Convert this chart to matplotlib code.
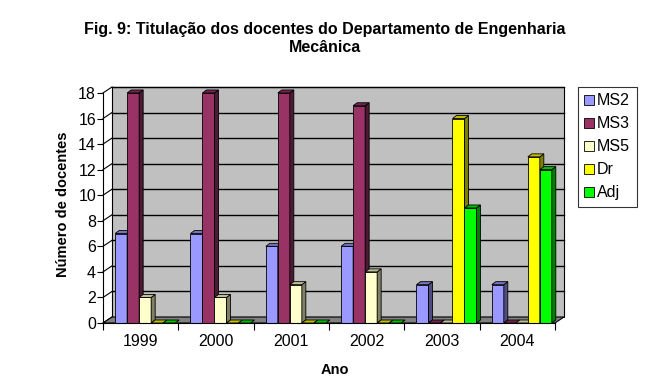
import matplotlib.pyplot as plt
from matplotlib.patches import Polygon, Patch
import matplotlib.colors as mc
import numpy as np

plt.rcParams['font.family'] = ['Liberation Sans', 'DejaVu Sans']

anos = ['1999', '2000', '2001', '2002', '2003', '2004']
series = ['MS2', 'MS3', 'MS5', 'Dr', 'Adj']
ms2 = [7, 7, 6, 6, 3, 3]
ms3 = [18, 18, 18, 17, 0, 0]
ms5 = [2, 2, 3, 4, 0, 0]
dr = [0, 0, 0, 0, 16, 13]
adj = [0, 0, 0, 0, 9, 12]
valores = [ms2, ms3, ms5, dr, adj]
cores = ['#9999FF', '#993366', '#FFFFCC', '#FFFF00', '#00FF00']

W, H = 649, 392
fig = plt.figure(figsize=(W / 100, H / 100), dpi=100)
px_x = 75.33   # pixels per category
px_y = 12.78   # pixels per unit
x0_px, y0_px = 103, 323
xmin, xmax = -0.5, 5.65
ymax = 18.6
ax = fig.add_axes([x0_px / W, (H - y0_px) / H, (xmax - xmin) * px_x / W, ymax * px_y / H])
ax.set_xlim(xmin, xmax)
ax.set_ylim(0, ymax)
ax.patch.set_visible(False)

# wall / floor offsets (depth)
wdx, wdy = 9 / px_x, 6 / px_y
x_l, x_r = -0.5, 5.5

# back wall
ax.add_patch(Polygon([(x_l + wdx, wdy), (x_r + wdx, wdy), (x_r + wdx, 18 + wdy), (x_l + wdx, 18 + wdy)],
                     closed=True, facecolor='#C0C0C0', edgecolor='black', lw=0.8, zorder=0))
# floor
ax.add_patch(Polygon([(x_l, 0), (x_r, 0), (x_r + wdx, wdy), (x_l + wdx, wdy)],
                     closed=True, facecolor='#808080', edgecolor='black', lw=0.8, zorder=1, clip_on=False))
# gridlines
for v in range(2, 19, 2):
    ax.plot([x_l + wdx, x_r + wdx], [v + wdy, v + wdy], color='black', lw=1, zorder=0.5)
for v in range(0, 19, 2):
    ax.plot([x_l, x_l + wdx], [v, v + wdy], color='black', lw=0.8, zorder=0.5, clip_on=False)

# bars with pseudo 3D
bw = 12 / px_x
bdx, bdy = 4 / px_x, 3 / px_y
shift = 4.5 / px_x
xs = np.arange(len(anos))


def escurecer(c, f):
    r, g, b = mc.to_rgb(c)
    return (r * f, g * f, b * f)


for i, (vals, cor) in enumerate(zip(valores, cores)):
    for j, h in enumerate(vals):
        xl = xs[j] - 2.5 * bw + i * bw + shift
        xr = xl + bw
        z = 2 + i * 0.01 + j
        if h > 0:
            ax.bar(xl, h, width=bw, align='edge', color=cor, edgecolor='black', lw=0.6, zorder=z)
            ax.add_patch(Polygon([(xr, 0), (xr, h), (xr + bdx, h + bdy), (xr + bdx, bdy)], closed=True,
                                 facecolor=escurecer(cor, 0.5), edgecolor='black', lw=0.6, zorder=z))
        ax.add_patch(Polygon([(xl, h), (xr, h), (xr + bdx, h + bdy), (xl + bdx, h + bdy)], closed=True,
                             facecolor=escurecer(cor, 0.75), edgecolor='black', lw=0.6, zorder=z))

for s in ['top', 'right']:
    ax.spines[s].set_visible(False)
ax.spines['left'].set_bounds(0, 18)
ax.spines['bottom'].set_bounds(x_l, x_r)
ax.spines['left'].set_zorder(3)
ax.spines['bottom'].set_zorder(20)

ax.set_yticks(range(0, 19, 2))
ax.tick_params(axis='y', length=4, labelsize=11.5, pad=1)
ax.set_xticks(np.arange(-0.5, 6, 1))
ax.set_xticklabels([])
ax.set_xticks(xs, minor=True)
ax.set_xticklabels(anos, minor=True, fontsize=11.5)
ax.tick_params(axis='x', which='major', length=5, direction='out')
ax.tick_params(axis='x', which='minor', length=0, pad=8)

ax.set_ylabel('Número de docentes', fontsize=10.5, fontweight='bold', labelpad=6)
ax.set_xlabel('Ano', fontsize=10.5, fontweight='bold', labelpad=10)

fig.suptitle('Fig. 9: Titulação dos docentes do Departamento de Engenharia\nMecânica',
             fontsize=11.5, fontweight='bold', x=0.5, y=0.945, linespacing=1.25)

handles = [Patch(facecolor=c, edgecolor='black', lw=0.6) for c in cores]
leg = fig.legend(handles, series, loc='upper left', bbox_to_anchor=(578 / W, 1 - 87 / H),
                 frameon=True, fancybox=False, edgecolor='black', fontsize=11.5,
                 handlelength=0.6, handleheight=0.6, handletextpad=0.2, labelspacing=0.5,
                 borderpad=0.4, borderaxespad=0)
leg.get_frame().set_linewidth(0.8)

fig.savefig('out.png', dpi=100)
